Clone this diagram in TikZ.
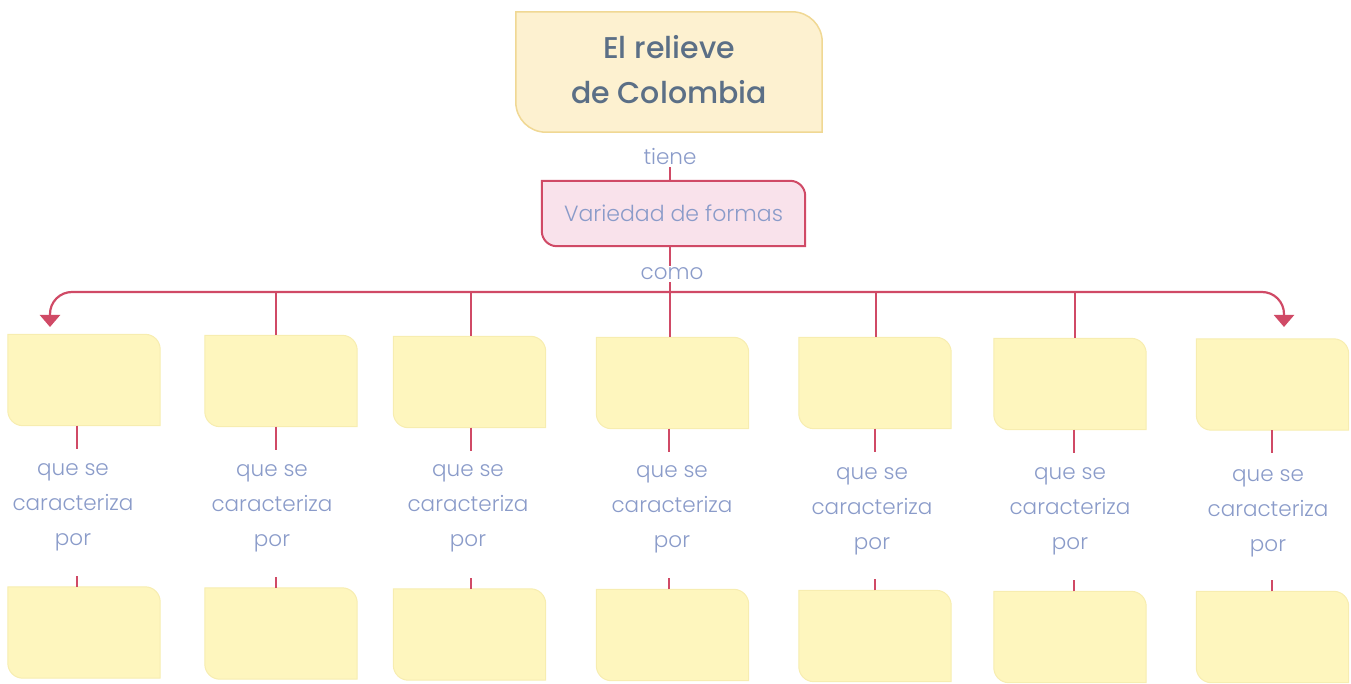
\documentclass[tikz,border=0pt]{standalone}
\usepackage{fontspec}
\setmainfont{Poppins}[UprightFont=* Light, BoldFont=* Medium]
\usetikzlibrary{arrows.meta,backgrounds}
\definecolor{crim}{HTML}{D04A66}
\definecolor{lbl}{HTML}{8A9BC9}
\definecolor{ttl}{HTML}{5B6F86}
\definecolor{ybox}{HTML}{FEF6BE}
\definecolor{yedge}{HTML}{F7EDB0}
\definecolor{tbox}{HTML}{FDF1D0}
\definecolor{tedge}{HTML}{F0D894}
\definecolor{pbox}{HTML}{F9E2EB}
\newcommand\leafpath[3]{%
  \path[#3] (#1.north west) -- ([xshift=-#2]#1.north east)
    arc[start angle=90,end angle=0,radius=#2] -- (#1.south east)
    -- ([xshift=#2]#1.south west) arc[start angle=270,end angle=180,radius=#2] -- cycle;}
\tikzset{
  x=1pt,y=1pt,
  conn/.style={draw=crim,line width=2.2pt},
  emptybox/.style={inner sep=0pt,minimum width=152pt,minimum height=91pt},
  lab/.style={text=lbl,font=\fontsize{21.5}{35}\selectfont,align=center,inner sep=2pt},
  tip/.style={-{Triangle[width=20pt,length=12pt]}}
}
\begin{document}
\begin{tikzpicture}
\useasboundingbox (0,0) rectangle (1351,-684);
% title
\node[inner sep=0pt,minimum width=306pt,minimum height=120pt] (top) at (669,-72) {};
\node[inner sep=0pt,text=ttl,font=\fontsize{30}{45}\selectfont\bfseries,align=center]
  (toptext) at (669,-70) {El relieve\\de Colombia};
\node[lab] (tiene) at (670,-157) {tiene};
\node[inner sep=0pt,minimum width=263pt,minimum height=65pt,text=lbl,
      font=\fontsize{22}{25}\selectfont] (var) at (673.5,-213.5) {Variedad de formas};
\node[lab] (como) at (672,-274) {como};
\begin{scope}[on background layer]
  \leafpath{top}{30pt}{fill=tbox,draw=tedge,line width=1.5pt}
  \leafpath{var}{15pt}{fill=pbox,draw=crim,line width=2pt}
\end{scope}
\draw[conn] (tiene.south) -- (var.north -| tiene.south);
\draw[conn] (var.south -| 670,0) -- (como.north -| 670,0);
% columns
\foreach \i/\cx/\cy/\ccy/\lx/\ly/\X in {
  1/84/380/632.5/73/507/77,
  2/281/381/633.5/272/508/276,
  3/469.5/382/634.5/468/508/471,
  4/672.5/383/635/672/509/669,
  5/875/383/636/872/511/875,
  6/1070/384/637/1070/511/1074,
  7/1272.5/384.5/637/1268/513/1272}{
  \node[emptybox] (b\i) at (\cx,-\cy) {};
  \node[emptybox] (c\i) at (\cx,-\ccy) {};
  \node[lab] (l\i) at (\lx,-\ly) {que se\\caracteriza\\por};
  \begin{scope}[on background layer]
    \leafpath{b\i}{15pt}{fill=ybox,draw=yedge,line width=1pt}
    \leafpath{c\i}{15pt}{fill=ybox,draw=yedge,line width=1pt}
  \end{scope}
  \coordinate (xb\i) at (\X,0);
  \draw[conn] (b\i.south -| xb\i) -- ++(0,-23);
  \draw[conn] (c\i.north -| xb\i) -- ++(0,11);
}
% bus
\coordinate (hub) at (670,-292);
\coordinate (a1) at (50,-327);
\coordinate (a7) at (1284,-327);
\draw[conn] (como.south -| hub) -- (hub |- b4.north);
\draw[conn,tip,rounded corners=22pt] (hub) -- (a1 |- hub) -- (a1);
\draw[conn,tip,rounded corners=22pt] (hub) -- (a7 |- hub) -- (a7);
\foreach \i/\X in {2/276,3/471,5/876,6/1075}{
  \coordinate (d\i) at (\X,-292);
  \draw[conn] (d\i) -- (d\i |- b\i.north);
}
\end{tikzpicture}
\end{document}
